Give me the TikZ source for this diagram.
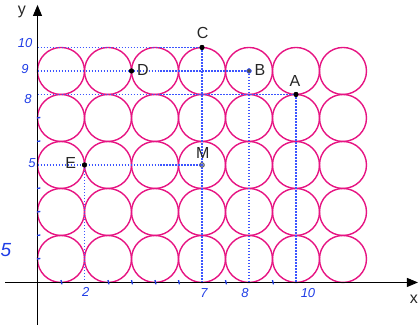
\documentclass[tikz,border=0pt]{standalone}
\usepackage{fontspec}
\setmainfont{Liberation Sans}
\usetikzlibrary{arrows.meta}
\definecolor{circpink}{RGB}{230,20,130}
\definecolor{guideblue}{RGB}{60,85,255}
\definecolor{handblue}{RGB}{30,60,230}
\tikzset{
  circ/.style={draw=circpink, line width=1.4pt},
  guide/.style={draw=guideblue, dash pattern=on 1.4pt off 1.6pt, line width=1.1pt},
  axis/.style={draw=black, line width=0.9pt, -{Triangle[length=11pt,width=9pt]}},
  lbl/.style={font=\fontsize{16}{16}\selectfont, text=black!85, inner sep=0pt},
  hand/.style={font=\fontsize{13}{13}\selectfont\itshape, text=handblue, inner sep=0pt},
  tick/.style={draw=handblue, line width=1.3pt},
  dotpt/.style={circle, fill=black, inner sep=0pt, minimum size=5pt},
  bdot/.style={circle, fill=black!70, draw=guideblue, line width=0.6pt, inner sep=0pt, minimum size=4.5pt},
  mdot/.style={circle, draw=black!60, line width=0.8pt, inner sep=0pt, minimum size=4.5pt},
}
\begin{document}
\begin{tikzpicture}[x=23.5pt, y=23.5pt]
\useasboundingbox (-1.596,-1.979) rectangle (16.277,12.02);
\coordinate (O) at (0,0);
% circles
\foreach \i in {0,...,6} {
  \foreach \j in {0,...,4} {
    \draw[circ] ({1+2*\i},{1+2*\j}) circle (1);
  }
}
% points
\node[dotpt] (A) at (11,8) {};
\node[bdot] (B) at (9,9) {};
\node[dotpt] (C) at (7,10) {};
\node[dotpt] (D) at (4,9) {};
\node[dotpt] (E) at (2,5) {};
\node[mdot] (M) at (7,5) {};
% guide lines
\draw[guide] (O |- C) -- (C.center);
\draw[guide] (O |- B) -- (B.center);
\draw[guide] (O |- A) -- (A.center);
\draw[guide] (O |- M) -- (M.center);
\draw[guide] (C.center) -- (C |- O);
\draw[guide] (B.center) -- (B |- O);
\draw[guide] (A.center) -- (A |- O);
\draw[guide] (E.center) -- (E |- O);
% axes
\coordinate (xs) at (-1.38,0);
\coordinate (xe) at (16.19,0);
\coordinate (ys) at (0,-1.81);
\coordinate (ye) at (0,11.81);
\draw[axis] (xs) -- (xe);
\draw[axis] (ys) -- (ye);
\node[lbl] (xl) at (16.02,-0.70) {x};
\node[lbl] (yl) at (-0.66,11.51) {y};
% redraw points on top
\node[dotpt] at (A) {};
\node[dotpt] at (C) {};
\node[dotpt] at (D) {};
\node[dotpt] at (E) {};
\node[bdot] at (B) {};
\node[mdot] at (M) {};
% point labels
\node[lbl] (lA) at (10.96,8.57) {A};
\node[lbl] (lB) at (9.47,9.04) {B};
\node[lbl] (lC) at (7.03,10.62) {C};
\node[lbl] (lD) at (4.49,9.04) {D};
\node[lbl] (lE) at (1.41,5.08) {E};
\node[lbl] (lM) at (7.03,5.51) {M};
% handwritten ticks
\foreach \t in {1,3,4,5,6,8,10} {
  \draw[tick] (\t+0.04,-0.08) -- (\t,0.1);
}
\foreach \t in {1,2,3,4,6,7} {
  \draw[tick] (-0.02,\t) -- (0.12,\t+0.02);
}
% handwritten labels
\node[hand] (h10) at (-0.53,10.19) {10};
\node[hand] (h9) at (-0.53,9.09) {9};
\node[hand] (h8) at (-0.40,7.81) {8};
\node[hand] (h5) at (-0.23,5.09) {5};
\node[hand, font=\fontsize{19}{19}\selectfont\itshape] (hb5) at (-1.34,1.38) {5};
\node[hand] (hx2) at (2.05,-0.40) {2};
\node[hand] (hx7) at (7.09,-0.45) {7};
\node[hand] (hx8) at (8.83,-0.45) {8};
\node[hand] (hx10) at (11.51,-0.45) {10};
\end{tikzpicture}
\end{document}
